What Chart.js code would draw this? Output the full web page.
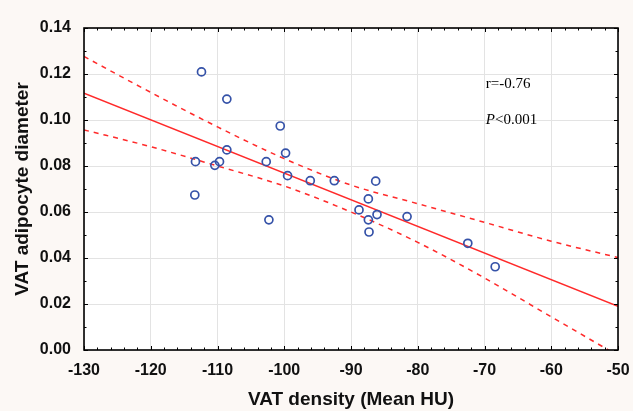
<!DOCTYPE html>
<html>
<head>
<meta charset="utf-8">
<script src="https://cdn.jsdelivr.net/npm/chart.js@4.4.1/dist/chart.umd.min.js"></script>
<style>
  html, body { margin: 0; padding: 0; background: #fcf8f5; }
  #wrap { width: 633px; height: 411px; }
</style>
</head>
<body>
<div id="wrap"><canvas id="c" width="633" height="411"></canvas></div>
<script>
// ---- data ----
const densityHU = [-112.4, -108.6, -100.6, -108.6, -113.3, -109.7, -110.4, -102.7, -99.8, -99.5, -96.1, -92.5,
                   -113.4, -102.3, -86.3, -87.4, -88.8, -87.4, -86.1, -81.6, -87.3, -72.5, -68.4];
const adipocyteDiameter = [0.1209, 0.1091, 0.0974, 0.0870, 0.0819, 0.0819, 0.0803, 0.0819, 0.0856, 0.0758, 0.0736, 0.0736,
                           0.0674, 0.0566, 0.0734, 0.0657, 0.0609, 0.0566, 0.0589, 0.0580, 0.0513, 0.0464, 0.0362];
const fitX = [-130, -50];
const fitY = [0.1117, 0.0190];
const bandX = [-130, -120, -110, -100, -90, -80, -70, -60, -50];
const upperBand = [0.1276, 0.1120, 0.0970, 0.0832, 0.0717, 0.0636, 0.0555, 0.0473, 0.0402];
const lowerBand = [0.0957, 0.0884, 0.0800, 0.0713, 0.0600, 0.0468, 0.0313, 0.0144, -0.0024];
const xTicks = [-130, -120, -110, -100, -90, -80, -70, -60, -50];
const yTicks = [0.00, 0.02, 0.04, 0.06, 0.08, 0.10, 0.12, 0.14];
const annotR = 'r=-0.76';
const annotP = '<0.001';

const toXY = (xs, ys) => xs.map((x, i) => ({x: x, y: ys[i]}));

const sansBold = (s) => ({family: "'Liberation Sans', Arial, sans-serif", size: s, weight: 'bold'});

const framePlugin = {
  id: 'frame',
  beforeDraw(chart) {
    const {ctx, chartArea: a} = chart;
    ctx.save();
    ctx.fillStyle = '#ffffff';
    ctx.fillRect(a.left, a.top, a.right - a.left, a.bottom - a.top);
    ctx.restore();
  },
  afterDraw(chart) {
    const {ctx, chartArea: a, scales} = chart;
    const sx = scales.x, sy = scales.y;
    ctx.save();
    ctx.strokeStyle = '#000';
    ctx.lineWidth = 1;
    // minor / major ticks inside the frame
    for (let v = xTicks[0]; v <= xTicks[xTicks.length - 1] + 1e-9; v += 2) {
      const px = Math.round(sx.getPixelForValue(v)) + 0.5;
      const major = Math.abs(v % 10) < 1e-6;
      const len = major ? 4 : 2.5;
      ctx.beginPath();
      ctx.moveTo(px, a.bottom); ctx.lineTo(px, a.bottom - len);
      ctx.moveTo(px, a.top); ctx.lineTo(px, a.top + len);
      ctx.stroke();
    }
    for (let k = 0; k <= 14; k++) {
      const v = k * 0.01;
      const py = Math.round(sy.getPixelForValue(v)) + 0.5;
      const len = (k % 2 === 0) ? 4 : 2.5;
      ctx.beginPath();
      ctx.moveTo(a.left, py); ctx.lineTo(a.left + len, py);
      ctx.moveTo(a.right, py); ctx.lineTo(a.right - len, py);
      ctx.stroke();
    }
    ctx.lineWidth = 1.6;
    ctx.strokeRect(a.left, a.top, a.right - a.left, a.bottom - a.top);
    // annotation
    ctx.fillStyle = '#000';
    ctx.textBaseline = 'middle';
    ctx.textAlign = 'left';
    const tx = sx.getPixelForValue(-69.8);
    ctx.font = "15px 'Liberation Serif', 'Times New Roman', serif";
    ctx.fillText(annotR, tx, sy.getPixelForValue(0.1155));
    const py2 = sy.getPixelForValue(0.1000);
    ctx.font = "italic 15px 'Liberation Serif', 'Times New Roman', serif";
    ctx.fillText('P', tx, py2);
    const w = ctx.measureText('P').width;
    ctx.font = "15px 'Liberation Serif', 'Times New Roman', serif";
    ctx.fillText(annotP, tx + w, py2);
    ctx.restore();
  }
};

new Chart(document.getElementById('c'), {
  type: 'scatter',
  data: {
    datasets: [
      {
        label: 'points',
        data: toXY(densityHU, adipocyteDiameter),
        pointStyle: 'circle',
        pointRadius: 4,
        pointBorderWidth: 1.7,
        pointBorderColor: '#3552a8',
        pointBackgroundColor: 'rgba(255,255,255,0)',
        showLine: false
      },
      {
        label: 'fit',
        data: toXY(fitX, fitY),
        showLine: true,
        borderColor: '#ff2a2a',
        borderWidth: 1.5,
        pointRadius: 0
      },
      {
        label: 'upper',
        data: toXY(bandX, upperBand),
        showLine: true,
        borderColor: '#ff2a2a',
        borderWidth: 1.5,
        borderDash: [5, 5],
        cubicInterpolationMode: 'monotone',
        pointRadius: 0
      },
      {
        label: 'lower',
        data: toXY(bandX, lowerBand),
        showLine: true,
        borderColor: '#ff2a2a',
        borderWidth: 1.5,
        borderDash: [5, 5],
        cubicInterpolationMode: 'monotone',
        pointRadius: 0
      }
    ]
  },
  options: {
    responsive: false,
    animation: false,
    layout: { padding: { left: 0, right: 15, top: 28, bottom: 0 } },
    plugins: { legend: { display: false }, tooltip: { enabled: false } },
    scales: {
      x: {
        type: 'linear',
        min: xTicks[0],
        max: xTicks[xTicks.length - 1],
        afterBuildTicks: (s) => { s.ticks = xTicks.map(v => ({value: v})); },
        afterFit: (s) => { s.height = 61; s.paddingLeft = 0; s.paddingRight = 0; },
        ticks: { font: sansBold(16), color: '#111', padding: 11, maxRotation: 0 },
        grid: { color: '#e3e3e3', lineWidth: 1, drawTicks: false },
        border: { display: false },
        title: { display: true, text: 'VAT density (Mean HU)', font: sansBold(19), color: '#111', padding: { top: 0, bottom: 0 } }
      },
      y: {
        type: 'linear',
        min: yTicks[0],
        max: yTicks[yTicks.length - 1],
        afterBuildTicks: (s) => { s.ticks = yTicks.map(v => ({value: v})); },
        afterFit: (s) => { s.width = 84; s.paddingTop = 0; s.paddingBottom = 0; },
        ticks: { font: sansBold(16), color: '#111', padding: 13, callback: (v) => Number(v).toFixed(2) },
        grid: { color: '#e3e3e3', lineWidth: 1, drawTicks: false },
        border: { display: false },
        title: { display: true, text: 'VAT adipocyte diameter', font: sansBold(19), color: '#111', padding: { top: 11, bottom: 0 } }
      }
    }
  },
  plugins: [framePlugin]
});
</script>
</body>
</html>
